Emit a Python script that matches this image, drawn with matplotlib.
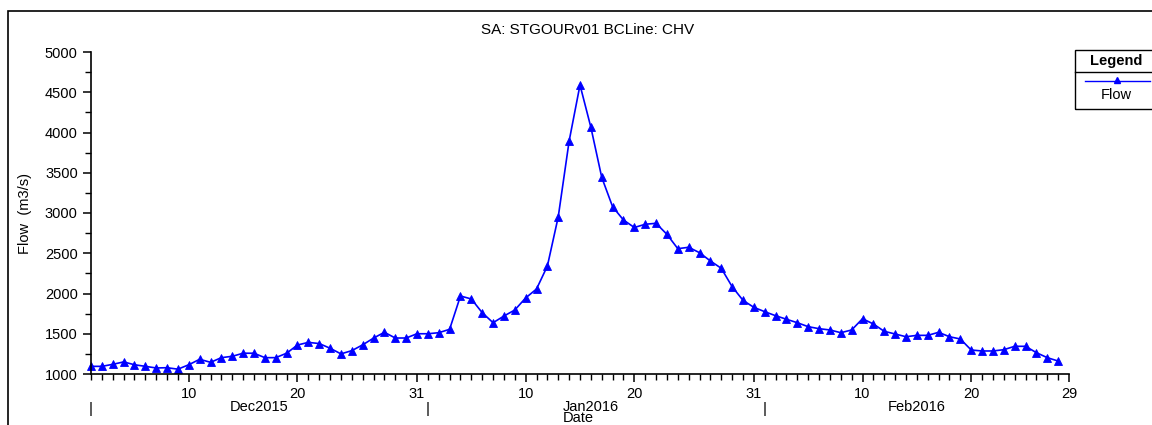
import matplotlib

matplotlib.use("Agg")

import matplotlib.pyplot as plt
import matplotlib.dates as mdates
import matplotlib.transforms as mtransforms
from matplotlib.lines import Line2D
from matplotlib.patches import Rectangle
import pandas as pd

plt.rcParams["font.family"] = ["Liberation Sans", "DejaVu Sans"]

# daily flow, m3/s, 1 Dec 2015 .. 28 Feb 2016
flow_dec = [1095, 1095, 1120, 1150, 1115, 1095, 1075, 1078, 1060, 1115,
            1183, 1145, 1203, 1220, 1258, 1258, 1203, 1203, 1258, 1360,
            1393, 1378, 1320, 1250, 1290, 1362, 1446, 1518, 1447, 1447, 1500]
flow_jan = [1500, 1513, 1555, 1969, 1932, 1762, 1637, 1720, 1795, 1945,
            2056, 2342, 2954, 3894, 4590, 4065, 3443, 3078, 2913, 2820,
            2860, 2872, 2735, 2557, 2574, 2507, 2404, 2313, 2085, 1915, 1828]
flow_feb = [1774, 1724, 1680, 1637, 1588, 1563, 1547, 1513, 1547, 1687,
            1621, 1530, 1497, 1463, 1480, 1480, 1518, 1463, 1435, 1298,
            1286, 1286, 1302, 1344, 1344, 1265, 1203, 1161]
flow = flow_dec + flow_jan + flow_feb
dates = pd.date_range("2015-12-01", periods=len(flow), freq="D")

major_days = ["2015-12-10", "2015-12-20", "2015-12-31",
              "2016-01-10", "2016-01-20", "2016-01-31",
              "2016-02-10", "2016-02-20", "2016-02-29"]
month_starts = ["2015-12-01", "2016-01-01", "2016-02-01"]
month_mids = ["2015-12-16 12:00", "2016-01-16", "2016-02-15"]
month_names = ["Dec2015", "Jan2016", "Feb2016"]

W, H = 1152, 425
fig = plt.figure(figsize=(W / 100, H / 100), dpi=100)
ax = fig.add_axes([91 / W, 1 - 374 / H, (1069 - 91) / W, (374 - 52) / H])

ax.plot(dates, flow, color="#0000ff", lw=1.2, marker="^", ms=5.5,
        markeredgewidth=0.6, clip_on=False)

ax.set_xlim(pd.Timestamp("2015-12-01"), pd.Timestamp("2016-02-29"))
ax.set_ylim(1000, 5000)

for s in ("top", "right"):
    ax.spines[s].set_visible(False)
ax.spines["left"].set_linewidth(1.2)
ax.spines["bottom"].set_linewidth(1.2)

major_num = [mdates.date2num(pd.Timestamp(d)) for d in major_days]
ax.xaxis.set_major_locator(matplotlib.ticker.FixedLocator(major_num))
ax.xaxis.set_major_formatter(matplotlib.ticker.FixedFormatter(
    [str(pd.Timestamp(d).day) for d in major_days]))
ax.xaxis.set_minor_locator(mdates.DayLocator())
ax.yaxis.set_major_locator(matplotlib.ticker.MultipleLocator(500))
ax.yaxis.set_minor_locator(matplotlib.ticker.MultipleLocator(250))

ax.tick_params(axis="both", which="major", direction="out", length=6,
               width=1.1, labelsize=10.5, colors="black")
ax.tick_params(axis="both", which="minor", direction="out", length=4,
               width=1.0)
ax.tick_params(axis="x", which="major", pad=3)

trans = mtransforms.blended_transform_factory(ax.transData, fig.transFigure)
for d in month_starts:
    ax.text(pd.Timestamp(d), 1 - 409 / H, "|", transform=trans,
            ha="center", va="center", fontsize=11)
for d, name in zip(month_mids, month_names):
    ax.text(pd.Timestamp(d), 1 - 407 / H, name, transform=trans,
            ha="center", va="center", fontsize=10.5)

fig.text(578 / W, 1 - 418 / H, "Date", ha="center", va="center",
         fontsize=10.5)
fig.text(25 / W, 1 - 213 / H, "Flow  (m3/s)", rotation=90, ha="center",
         va="center", fontsize=10.5)
fig.text(588 / W, 1 - 30 / H, "SA: STGOURv01 BCLine: CHV", ha="center",
         va="center", fontsize=11)

# outer frame
fig.patches.append(Rectangle((8 / W, -0.1), 1.2, 1 - 11 / H + 0.1,
                             transform=fig.transFigure, fill=False,
                             edgecolor="black", lw=1.2))

# legend box
lx0, ly0, ly1 = 1075, 50, 109
fig.patches.append(Rectangle((lx0 / W, 1 - ly1 / H), 0.2, (ly1 - ly0) / H,
                             transform=fig.transFigure, fill=False,
                             edgecolor="black", lw=1.0))
fig.lines.append(Line2D([lx0 / W, 1.1], [1 - 72 / H, 1 - 72 / H],
                        transform=fig.transFigure, color="black", lw=1.0))
fig.text(1116 / W, 1 - 61 / H, "Legend", ha="center", va="center",
         fontsize=10.5, fontweight="bold")
fig.lines.append(Line2D([1085 / W, 1150 / W], [1 - 81 / H, 1 - 81 / H],
                        transform=fig.transFigure, color="#0000ff", lw=1.0))
fig.lines.append(Line2D([1117 / W], [1 - 80 / H], transform=fig.transFigure,
                        color="#0000ff", marker="^", ms=5, lw=0))
fig.text(1116 / W, 1 - 95 / H, "Flow", ha="center", va="center",
         fontsize=10.5)

fig.savefig("out.png", dpi=100)
